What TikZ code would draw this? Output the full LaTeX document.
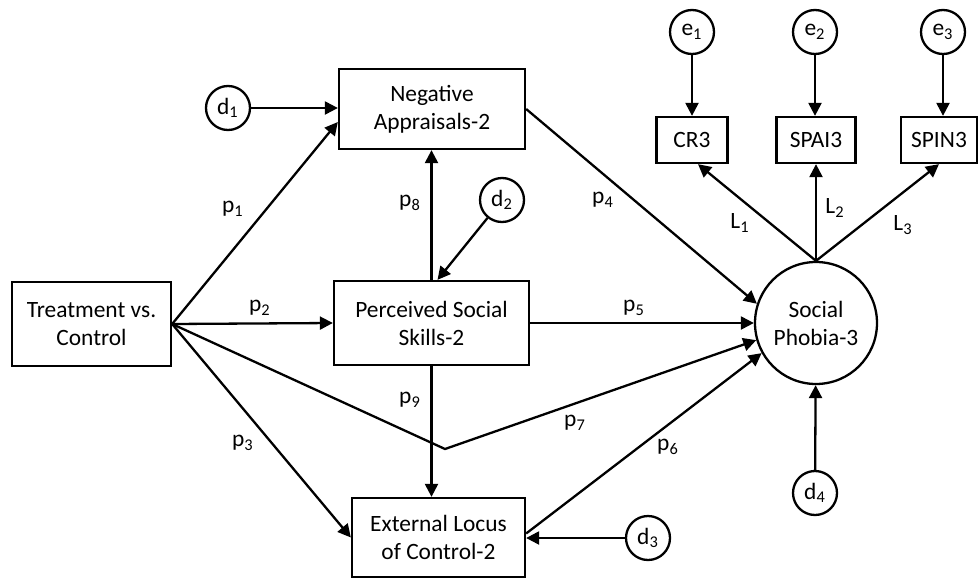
\documentclass[tikz,border=0pt]{standalone}
\usepackage{fontspec}
\setmainfont{Carlito}
\usetikzlibrary{arrows.meta,calc}

\begin{document}
\begin{tikzpicture}[x=0.5pt,y=-0.5pt,
  font=\fontsize{11.7}{14}\selectfont,
  var/.style={draw,line width=1.15pt,align=center,inner sep=0pt},
  err/.style={draw,circle,line width=1.15pt,minimum size=22pt,inner sep=0pt},
  path/.style={line width=1.15pt,-{Triangle[length=6.5pt,width=6.5pt]}},
  coef/.style={inner sep=0pt}]
\useasboundingbox (0,0) rectangle (980,578);

\node[var,minimum width=79.5pt,minimum height=42pt] (TC) at (91.5,324) {Treatment vs.\\Control};
\node[var,minimum width=93pt,minimum height=40pt] (NA) at (432,109) {Negative\\Appraisals-2};
\node[var,minimum width=97.5pt,minimum height=42pt] (PSS) at (431.5,323) {Perceived Social\\Skills-2};
\node[var,minimum width=86.5pt,minimum height=39.5pt] (Ext) at (438.5,537.5) {External Locus\\of Control-2};
\node[var,circle,minimum size=61pt] (SP) at (816,323) {Social\\Phobia-3};

\node[var,minimum width=35.5pt,minimum height=23pt] (CR3) at (692,140) {CR3};
\node[var,minimum width=39.5pt,minimum height=23pt] (SPAI3) at (816,140) {SPAI3};
\node[var,minimum width=38pt,minimum height=23pt] (SPIN3) at (939,140) {SPIN3};

\node[err] (d1) at (228,108) {d\textsubscript{1}};
\node[err] (d2) at (502,200) {d\textsubscript{2}};
\node[err] (d3) at (648,538) {d\textsubscript{3}};
\node[err] (d4) at (815,493) {d\textsubscript{4}};
\node[err] (e1) at (692,32) {e\textsubscript{1}};
\node[err] (e2) at (815,32) {e\textsubscript{2}};
\node[err] (e3) at (943,32) {e\textsubscript{3}};

\coordinate (bend) at (445,449);

\draw[path] (TC.east) -- ($(NA.west)+(0,13)$);
\draw[path] (TC.east) -- (PSS.west);
\draw[path] (TC.east) -- (Ext.west);
\draw[path] (TC.east) -- (bend) -- (SP.196);
\draw[path] (NA.east) -- (SP.162);
\draw[path] (PSS.east) -- (SP.180);
\draw[path] ($(Ext.east)+(0,-4)$) -- (SP.209);
\draw[path] (PSS.north) -- (PSS.north |- NA.south);
\draw[path] (PSS.south) -- (PSS.south |- Ext.north);

\draw[path] (d1) -- (d1 -| NA.west);
\draw[path] (d2) -- ($(PSS.north)+(6,0)$);
\draw[path] (d3) -- (d3 -| Ext.east);
\draw[path] (d4) -- (SP);

\draw[path] (SP.north) -- ($(CR3.south)+(6,0)$);
\draw[path] (SP.north) -- (SPAI3.south);
\draw[path] (SP.north) -- (SPIN3.south);
\draw[path] (e1) -- (CR3.north);
\draw[path] (e2) -- (e2 |- SPAI3.north);
\draw[path] (e3) -- (e3 |- SPIN3.north);

\node[coef] at (233,209) {p\textsubscript{1}};
\node[coef] at (260,308) {p\textsubscript{2}};
\node[coef] at (243,443) {p\textsubscript{3}};
\node[coef] at (603,200) {p\textsubscript{4}};
\node[coef] at (634,308) {p\textsubscript{5}};
\node[coef] at (668,447) {p\textsubscript{6}};
\node[coef] at (575,423) {p\textsubscript{7}};
\node[coef] at (410,203) {p\textsubscript{8}};
\node[coef] at (410,400) {p\textsubscript{9}};
\node[coef] at (740,223) {L\textsubscript{1}};
\node[coef] at (835,208) {L\textsubscript{2}};
\node[coef] at (903,225) {L\textsubscript{3}};
\end{tikzpicture}
\end{document}
